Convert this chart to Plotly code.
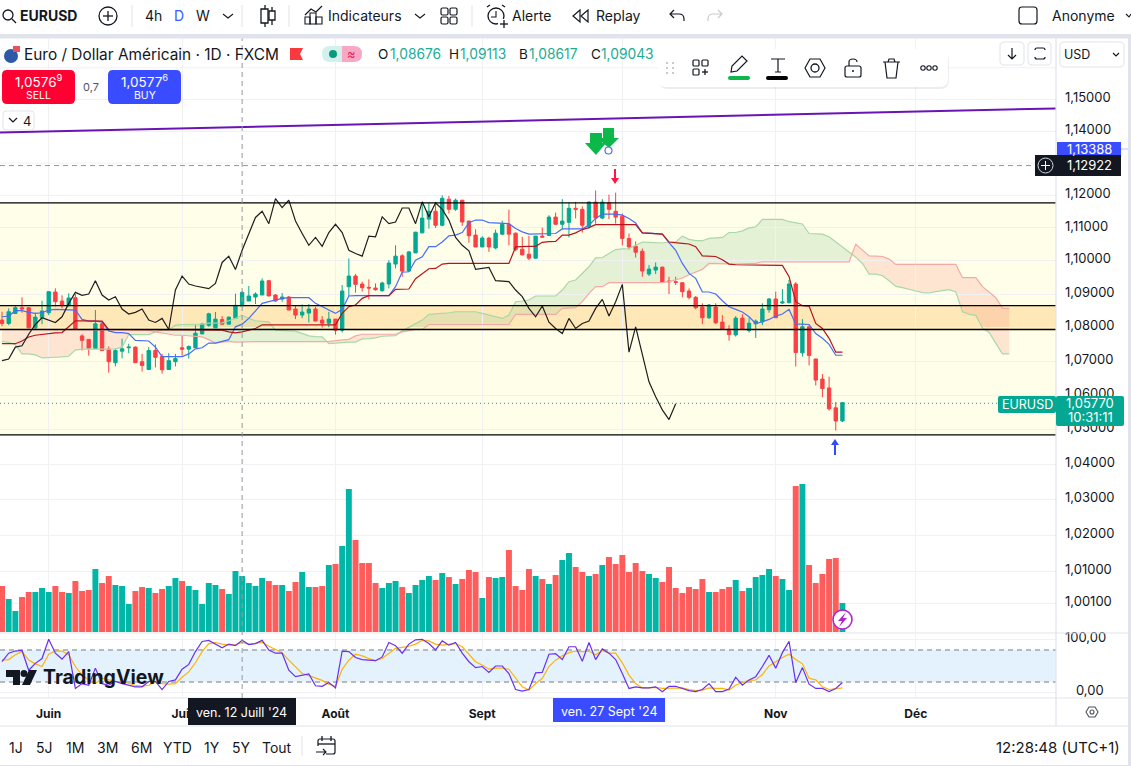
import re
import plotly.graph_objects as go

W, H = 1131, 766
FIRST_BAR = -7
month_ticks = [0, 20, 43, 65, 86, 109, 130]
shown_ticks = [0, 20, 43, 65, 109, 130]
shown_labels = ["Juin", "Juil", "Août", "Sept", "Nov", "Déc"]
price_ticks = [1.15, 1.14, 1.12, 1.11, 1.10, 1.09, 1.08, 1.07, 1.06, 1.05, 1.04, 1.03, 1.02, 1.01, 1.001]
price_labels = ["1,15000", "1,14000", "1,12000", "1,11000", "1,10000", "1,09000", "1,08000", "1,07000", "1,06000",
                "1,05000", "1,04000", "1,03000", "1,02000", "1,01000", "1,00100"]
unlabelled_grid = [1.16, 1.13]

opens = [1.0817,1.0807,1.0837,1.0854,1.0854,1.0794,1.0824,1.0839,1.0901,1.0874,
 1.0861,1.0884,1.0770,1.0760,1.0733,1.0806,1.0731,1.0691,1.0725,1.0735,
 1.0737,1.0694,1.0671,1.0727,1.0709,1.0671,1.0694,1.0735,1.0731,1.0735,
 1.0776,1.0802,1.0794,1.0819,1.0805,1.0822,1.0859,1.0874,1.0886,1.0892,
 1.0935,1.0892,1.0880,1.0886,1.0850,1.0832,1.0838,1.0850,1.0817,1.0808,
 1.0820,1.0787,1.0917,1.0949,1.0925,1.0915,1.0913,1.0905,1.0925,1.0985,
 1.1010,1.0964,1.1019,1.1080,1.1122,1.1146,1.1103,1.1183,1.1152,1.1180,
 1.1116,1.1073,1.1037,1.1064,1.1034,1.1076,1.1106,1.1079,1.1030,1.1015,
 1.1003,1.1070,1.1072,1.1128,1.1106,1.1112,1.1155,1.1152,1.1100,1.1174,
 1.1125,1.1172,1.1146,1.1131,1.1063,1.1039,1.1024,1.0955,1.0967,1.0976,
 1.0934,1.0932,1.0929,1.0904,1.0885,1.0856,1.0824,1.0856,1.0811,1.0790,
 1.0773,1.0823,1.0786,1.0806,1.0812,1.0848,1.0880,1.0868,1.0869,1.0925,
 1.0720,1.0797,1.0702,1.0643,1.0617,1.0559,1.0521]
highs = [1.0842,1.0852,1.0859,1.0885,1.0855,1.0839,1.0875,1.0902,1.0912,1.0891,
 1.0897,1.0895,1.0775,1.0760,1.0847,1.0812,1.0739,1.0732,1.0762,1.0747,
 1.0739,1.0717,1.0737,1.0745,1.0717,1.0719,1.0717,1.0771,1.0742,1.0802,
 1.0809,1.0839,1.0841,1.0829,1.0827,1.0896,1.0904,1.0919,1.0900,1.0942,
 1.0937,1.0895,1.0898,1.0889,1.0862,1.0864,1.0865,1.0857,1.0829,1.0842,
 1.0820,1.0922,1.1002,1.0955,1.0932,1.0939,1.0927,1.0932,1.0997,1.1042,
 1.1015,1.1025,1.1083,1.1175,1.1172,1.1168,1.1195,1.1193,1.1185,1.1180,
 1.1117,1.1091,1.1070,1.1068,1.1090,1.1117,1.1151,1.1081,1.1068,1.1071,
 1.1070,1.1096,1.1134,1.1142,1.1183,1.1173,1.1175,1.1161,1.1177,1.1210,
 1.1183,1.1197,1.1203,1.1139,1.1078,1.1054,1.1032,1.0982,1.0990,1.0976,
 1.0947,1.0947,1.0929,1.0912,1.0889,1.0867,1.0865,1.0867,1.0832,1.0802,
 1.0829,1.0835,1.0824,1.0819,1.0867,1.0883,1.0902,1.0910,1.0937,1.0931,
 1.0820,1.0802,1.0702,1.0658,1.0650,1.0576,1.0576]
lows = [1.0799,1.0802,1.0835,1.0839,1.0793,1.0787,1.0805,1.0832,1.0857,1.0852,
 1.0857,1.0789,1.0727,1.0712,1.0731,1.0725,1.0662,1.0680,1.0704,1.0719,
 1.0691,1.0665,1.0670,1.0677,1.0659,1.0670,1.0680,1.0712,1.0703,1.0735,
 1.0775,1.0797,1.0794,1.0803,1.0805,1.0820,1.0858,1.0874,1.0865,1.0892,
 1.0889,1.0872,1.0872,1.0847,1.0820,1.0823,1.0810,1.0814,1.0795,1.0796,
 1.0774,1.0780,1.0889,1.0899,1.0902,1.0879,1.0905,1.0902,1.0912,1.0972,
 1.0947,1.0962,1.1019,1.1078,1.1093,1.1095,1.1100,1.1139,1.1147,1.1101,
 1.1050,1.1037,1.1037,1.1022,1.1030,1.1073,1.1042,1.1024,1.1011,1.0997,
 1.1001,1.1066,1.1070,1.1106,1.1091,1.1066,1.1124,1.1081,1.1093,1.1108,
 1.1122,1.1122,1.1108,1.1042,1.1029,1.1005,1.0947,1.0949,1.0955,1.0931,
 1.0895,1.0922,1.0885,1.0879,1.0849,1.0805,1.0820,1.0805,1.0788,1.0756,
 1.0768,1.0788,1.0780,1.0764,1.0802,1.0839,1.0824,1.0865,1.0867,1.0680,
 1.0709,1.0683,1.0624,1.0590,1.0551,1.0493,1.0518]
closes = [1.0807,1.0842,1.0854,1.0850,1.0794,1.0826,1.0844,1.0902,1.0872,1.0860,
 1.0883,1.0789,1.0757,1.0733,1.0806,1.0727,1.0694,1.0727,1.0732,1.0737,
 1.0691,1.0683,1.0727,1.0707,1.0670,1.0697,1.0703,1.0731,1.0739,1.0778,
 1.0805,1.0836,1.0820,1.0805,1.0826,1.0861,1.0900,1.0889,1.0895,1.0934,
 1.0889,1.0874,1.0886,1.0847,1.0832,1.0841,1.0850,1.0814,1.0808,1.0820,
 1.0787,1.0904,1.0949,1.0924,1.0914,1.0913,1.0908,1.0928,1.0988,1.1009,
 1.0964,1.1022,1.1082,1.1125,1.1146,1.1103,1.1186,1.1152,1.1180,1.1113,
 1.1071,1.1037,1.1064,1.1037,1.1079,1.1106,1.1076,1.1029,1.1013,1.1003,
 1.1070,1.1067,1.1128,1.1106,1.1116,1.1155,1.1152,1.1103,1.1174,1.1125,
 1.1174,1.1152,1.1128,1.1063,1.1037,1.1021,1.0964,1.0970,1.0976,1.0931,
 1.0932,1.0930,1.0902,1.0885,1.0854,1.0824,1.0862,1.0809,1.0789,1.0774,
 1.0823,1.0790,1.0808,1.0814,1.0850,1.0880,1.0824,1.0871,1.0925,1.0721,
 1.0797,1.0712,1.0640,1.0615,1.0556,1.0521,1.0574]
volumes = [46,33,21,35,40,40,44,40,46,40,39,51,41,42,63,49,56,47,46,28,
 41,45,44,39,43,46,54,51,46,42,28,49,47,43,38,61,56,49,46,54,
 51,47,47,41,50,60,45,45,46,67,68,86,143,92,69,69,49,44,49,51,
 45,39,47,52,56,52,59,55,48,53,62,60,34,55,54,55,82,46,42,63,
 56,53,48,57,72,79,65,60,56,58,67,75,68,77,60,69,61,58,54,50,
 65,44,39,45,43,53,40,40,43,45,52,41,44,55,57,63,56,53,42,146,
 148,67,49,58,73,74,29]
conversion = [1.0827,1.0829,1.0845,1.0845,1.0840,1.0837,1.0839,1.0847,1.0849,1.0849,
 1.0849,1.0847,1.0819,1.0814,1.0814,1.0812,1.0785,1.0780,1.0780,1.0777,
 1.0757,1.0756,1.0755,1.0737,1.0709,1.0709,1.0709,1.0709,1.0717,1.0732,
 1.0735,1.0749,1.0749,1.0754,1.0759,1.0797,1.0805,1.0822,1.0845,1.0867,
 1.0872,1.0877,1.0882,1.0884,1.0884,1.0884,1.0884,1.0867,1.0857,1.0845,
 1.0837,1.0849,1.0889,1.0890,1.0890,1.0890,1.0890,1.0890,1.0890,1.0917,
 1.0961,1.0962,1.0997,1.1007,1.1038,1.1038,1.1052,1.1071,1.1073,1.1081,
 1.1111,1.1119,1.1119,1.1111,1.1110,1.1110,1.1108,1.1093,1.1083,1.1076,
 1.1076,1.1076,1.1076,1.1078,1.1092,1.1092,1.1092,1.1092,1.1103,1.1124,
 1.1137,1.1137,1.1137,1.1134,1.1124,1.1110,1.1080,1.1079,1.1078,1.1076,
 1.1050,1.1027,1.0987,1.0957,1.0942,1.0901,1.0901,1.0895,1.0875,1.0857,
 1.0849,1.0841,1.0827,1.0807,1.0812,1.0819,1.0829,1.0835,1.0849,1.0805,
 1.0805,1.0804,1.0777,1.0763,1.0745,1.0713,1.0713]
base_line = [1.0747,1.0747,1.0747,1.0755,1.0767,1.0772,1.0775,1.0777,1.0779,1.0780,
 1.0797,1.0815,1.0815,1.0815,1.0814,1.0814,1.0789,1.0789,1.0789,1.0789,
 1.0789,1.0789,1.0789,1.0789,1.0789,1.0789,1.0789,1.0789,1.0789,1.0789,
 1.0789,1.0789,1.0789,1.0787,1.0782,1.0779,1.0782,1.0787,1.0792,1.0803,
 1.0803,1.0803,1.0803,1.0803,1.0803,1.0803,1.0803,1.0803,1.0803,1.0803,
 1.0803,1.0837,1.0857,1.0862,1.0882,1.0890,1.0890,1.0890,1.0890,1.0909,
 1.0910,1.0910,1.0941,1.0957,1.0971,1.0972,1.0985,1.0987,1.0987,1.0987,
 1.0987,1.0987,1.0987,1.0987,1.0987,1.0987,1.0987,1.1037,1.1039,1.1039,
 1.1039,1.1051,1.1053,1.1054,1.1073,1.1073,1.1080,1.1090,1.1096,1.1105,
 1.1105,1.1105,1.1105,1.1105,1.1105,1.1105,1.1080,1.1079,1.1078,1.1076,
 1.1052,1.1051,1.1048,1.1046,1.1038,1.1010,1.1009,1.1008,1.0998,1.0985,
 1.0983,1.0983,1.0983,1.0983,1.0983,1.0983,1.0983,1.0981,1.0947,1.0872,
 1.0860,1.0859,1.0807,1.0792,1.0763,1.0722,1.0722]
lagging = [1.0697,1.0702,1.0737,1.0741,1.0775,1.0804,1.0824,1.0817,1.0810,1.0827,
 1.0867,1.0900,1.0891,1.0895,1.0935,1.0892,1.0877,1.0887,1.0850,1.0835,
 1.0840,1.0850,1.0817,1.0810,1.0822,1.0789,1.0907,1.0949,1.0925,1.0919,
 1.0915,1.0911,1.0927,1.0990,1.1009,1.0969,1.1027,1.1080,1.1127,1.1146,
 1.1108,1.1185,1.1157,1.1180,1.1116,1.1078,1.1042,1.1066,1.1039,1.1081,
 1.1106,1.1081,1.1027,1.1017,1.1009,1.1070,1.1068,1.1129,1.1108,1.1113,
 1.1156,1.1156,1.1108,1.1175,1.1129,1.1172,1.1152,1.1119,1.1066,1.1042,
 1.1025,1.0969,1.0971,1.0975,1.0935,1.0933,1.0932,1.0907,1.0887,1.0852,
 1.0827,1.0859,1.0811,1.0792,1.0777,1.0822,1.0792,1.0807,1.0814,1.0852,
 1.0879,1.0829,1.0872,1.0924,1.0722,1.0797,1.0714,1.0635,1.0591,1.0553,
 1.0525,1.0571]
span_a = [1.0754,1.0751,1.0744,1.0717,1.0717,1.0714,1.0705,1.0707,1.0707,1.0708,
 1.0710,1.0729,1.0731,1.0732,1.0731,1.0730,1.0731,1.0732,1.0737,1.0774,
 1.0774,1.0774,1.0774,1.0782,1.0787,1.0788,1.0802,1.0804,1.0804,1.0803,
 1.0805,1.0808,1.0809,1.0809,1.0815,1.0822,1.0832,1.0822,1.0815,1.0813,
 1.0812,1.0787,1.0785,1.0785,1.0784,1.0777,1.0770,1.0768,1.0767,1.0747,
 1.0749,1.0751,1.0752,1.0752,1.0761,1.0762,1.0764,1.0769,1.0770,1.0771,
 1.0785,1.0795,1.0807,1.0817,1.0834,1.0835,1.0837,1.0839,1.0842,1.0842,
 1.0842,1.0842,1.0837,1.0832,1.0827,1.0822,1.0832,1.0872,1.0874,1.0877,
 1.0889,1.0889,1.0889,1.0889,1.0907,1.0932,1.0937,1.0957,1.0977,1.1004,
 1.1005,1.1017,1.1029,1.1031,1.1032,1.1042,1.1052,1.1051,1.1050,1.1049,
 1.1052,1.1052,1.1070,1.1060,1.1056,1.1056,1.1063,1.1064,1.1066,1.1081,
 1.1081,1.1086,1.1095,1.1098,1.1121,1.1121,1.1121,1.1121,1.1114,1.1111,
 1.1107,1.1078,1.1077,1.1076,1.1068,1.1053,1.1038,1.1023,1.1006,1.0987,
 1.0955,1.0955,1.0950,1.0935,1.0918,1.0914,1.0910,1.0904,1.0899,1.0898,
 1.0902,1.0906,1.0908,1.0901,1.0842,1.0834,1.0831,1.0793,1.0780,1.0748,
 1.0717,1.0717]
span_b = [1.0789,1.0789,1.0789,1.0789,1.0789,1.0789,1.0789,1.0789,1.0789,1.0789,
 1.0789,1.0789,1.0789,1.0789,1.0789,1.0789,1.0789,1.0789,1.0789,1.0789,
 1.0789,1.0789,1.0787,1.0782,1.0779,1.0777,1.0772,1.0772,1.0771,1.0770,
 1.0767,1.0759,1.0749,1.0752,1.0754,1.0752,1.0753,1.0753,1.0753,1.0753,
 1.0753,1.0753,1.0753,1.0753,1.0753,1.0753,1.0753,1.0753,1.0753,1.0753,
 1.0756,1.0757,1.0760,1.0770,1.0775,1.0775,1.0775,1.0775,1.0775,1.0775,
 1.0782,1.0785,1.0789,1.0789,1.0804,1.0804,1.0804,1.0804,1.0804,1.0804,
 1.0804,1.0804,1.0804,1.0804,1.0804,1.0804,1.0804,1.0834,1.0834,1.0834,
 1.0834,1.0834,1.0834,1.0834,1.0852,1.0853,1.0854,1.0872,1.0897,1.0917,
 1.0917,1.0929,1.0929,1.0929,1.0929,1.0929,1.0929,1.0929,1.0929,1.0929,
 1.0932,1.0937,1.0943,1.0953,1.0962,1.0969,1.0987,1.0986,1.0985,1.0985,
 1.0985,1.0986,1.0986,1.0987,1.0992,1.0992,1.0992,1.0992,1.0992,1.0992,
 1.0992,1.0992,1.0992,1.0992,1.0992,1.0992,1.0992,1.0992,1.1045,1.1028,
 1.1010,1.1009,1.1008,1.1000,1.0984,1.0984,1.0984,1.0984,1.0984,1.0984,
 1.0984,1.0984,1.0984,1.0984,1.0944,1.0944,1.0944,1.0917,1.0901,1.0884,
 1.0852,1.0852]
stoch_k = [58,74,78,79,42,55,64,100,74,63,77,8,17,14,46,17,14,21,17,14,
 11,11,21,21,6,21,24,44,53,77,96,98,91,84,91,88,98,90,92,98,
 80,74,74,42,30,32,35,13,12,19,9,78,77,66,62,61,60,67,94,88,
 74,91,99,100,92,80,97,89,94,74,58,47,49,38,50,50,36,6,3,6,
 37,38,72,73,62,86,86,59,94,62,82,74,62,36,8,11,9,9,11,2,
 12,12,8,4,2,6,17,2,2,7,29,14,24,30,49,70,46,75,96,19,
 47,16,8,8,2,8,19]
stoch_d = [61,62,71,77,61,54,49,72,78,78,71,49,33,24,17,27,24,21,21,17,
 14,12,14,21,17,16,17,29,39,56,77,92,94,91,89,90,94,91,92,94,
 87,81,75,61,49,36,32,27,23,16,12,44,61,72,69,64,60,64,74,83,
 85,87,91,98,97,91,89,91,92,86,71,58,52,44,46,46,44,27,11,5,
 17,27,49,61,69,75,78,77,78,71,79,74,74,56,33,17,9,9,10,8,
 8,9,9,6,4,5,9,8,8,5,14,19,23,24,34,50,58,66,72,62,
 54,27,24,11,6,7,9]

zone_outer = [1.0481, 1.1172]
zone_inner = [1.0789, 1.0860]
trend_prices = [1.1390, 1.1466]
crosshair_price = 1.12922
last_price = 1.05770
stoch_band = [20, 80]

# The readings above were taken against a slightly low reference point on the price scale.
READ_CORRECTION = 1.00046


def corrected(values):
    return [round(v * READ_CORRECTION, 5) for v in values]


opens, highs, lows, closes = corrected(opens), corrected(highs), corrected(lows), corrected(closes)
conversion, base_line, lagging = corrected(conversion), corrected(base_line), corrected(lagging)
span_a, span_b = corrected(span_a), corrected(span_b)
zone_outer, zone_inner, trend_prices = corrected(zone_outer), corrected(zone_inner), corrected(trend_prices)

assert len(opens) == len(highs) == len(lows) == len(closes) == len(volumes) == len(conversion) == len(base_line) == len(stoch_k) == len(stoch_d) == 127
assert len(lagging) == 102
assert len(span_a) == len(span_b) == 152

UP, DOWN = "#04A892", "#FC3F44"
VUP, VDOWN = "#02B6A7", "#FF5C5C"
INK = "#131722"
EDGE = "#E0E3EB"
GRID = "#F1F1F3"
FONT = "Inter"
CROSS_DASH = "5px,4px"

bars = list(range(FIRST_BAR, FIRST_BAR + len(opens)))
XMIN, XMAX = -7.301, 151.02


def px(p): return p / W
def py(p): return 1 - p / H


shapes, notes = [], []


def path_of(s):
    tokens = re.findall(r"[MLQCZ]|-?\d+\.?\d*", s)
    out, axis = [], 0
    for t in tokens:
        if t in "MLQCZ":
            out.append(t)
            axis = 0
        else:
            v = float(t)
            out.append(f"{px(v) if axis == 0 else py(v):.6f}")
            axis = 1 - axis
    return " ".join(out)


def pth(s, fill=None, line=None, lw=1.3):
    shapes.append(dict(type="path", xref="paper", yref="paper", path=path_of(s), fillcolor=fill or "rgba(0,0,0,0)",
                       line=dict(color=line or "rgba(0,0,0,0)", width=lw if line else 0), layer="above"))


def rect(x0, y0, x1, y1, fill=None, line=None, lw=1, r=0):
    if r:
        s = (f"M {x0+r} {y0} L {x1-r} {y0} Q {x1} {y0} {x1} {y0+r} L {x1} {y1-r} Q {x1} {y1} {x1-r} {y1} "
             f"L {x0+r} {y1} Q {x0} {y1} {x0} {y1-r} L {x0} {y0+r} Q {x0} {y0} {x0+r} {y0} Z")
    else:
        s = f"M {x0} {y0} L {x1} {y0} L {x1} {y1} L {x0} {y1} Z"
    pth(s, fill, line, lw)


def seg(x0, y0, x1, y1, color=INK, lw=1.3, dash=None):
    shapes.append(dict(type="line", xref="paper", yref="paper", x0=px(x0), x1=px(x1), y0=py(y0), y1=py(y1),
                       line=dict(color=color, width=lw, dash=dash or "solid"), layer="above"))


def circ(cx, cy, r, fill=None, line=INK, lw=1.3):
    shapes.append(dict(type="circle", xref="paper", yref="paper", x0=px(cx-r), x1=px(cx+r), y0=py(cy-r), y1=py(cy+r),
                       fillcolor=fill or "rgba(0,0,0,0)", line=dict(color=line or "rgba(0,0,0,0)", width=lw), layer="above"))


def txt(x, y, s, size=14, color=INK, anchor="left", font=FONT):
    notes.append(dict(x=px(x), y=py(y), xref="paper", yref="paper", text=s, showarrow=False, xanchor=anchor, yanchor="middle",
                      font=dict(size=size, color=color, family=font), borderpad=0, borderwidth=0))


fig = go.Figure()


def band(prices, fill):
    shapes.append(dict(type="rect", xref="x", yref="y", x0=XMIN, x1=XMAX, y0=prices[0], y1=prices[1], fillcolor=fill,
                       line=dict(width=0), layer="below"))


def hline(price, color, width=1.2, dash="solid", xaxis="x", yaxis="y"):
    fig.add_trace(go.Scatter(x=[XMIN, XMAX], y=[price, price], mode="lines", line=dict(color=color, width=width, dash=dash),
                             xaxis=xaxis, yaxis=yaxis, hoverinfo="skip"))


band(zone_outer, "#FFFEE9")
band(zone_inner, "#FFE8B8")

# Ichimoku cloud, one polygon per run where span A stays above or below span B
cloud_x = list(range(FIRST_BAR, FIRST_BAR + len(span_a)))
run_x, run_a, run_b = [], [], []


def flush(sign):
    if len(run_x) > 1:
        xs = run_x + run_x[::-1]
        ys = run_a + run_b[::-1]
        d = "M " + " L ".join(f"{a:.3f} {b:.5f}" for a, b in zip(xs, ys)) + " Z"
        shapes.append(dict(type="path", xref="x", yref="y", path=d, line=dict(width=0), layer="below",
                           fillcolor="rgba(150,205,150,0.25)" if sign > 0 else "rgba(245,130,120,0.2)"))


sign = 1 if span_a[0] >= span_b[0] else -1
for k in range(len(cloud_x)):
    s = 1 if span_a[k] >= span_b[k] else -1
    if s != sign:
        d0, d1 = span_a[k-1] - span_b[k-1], span_a[k] - span_b[k]
        t = d0 / (d0 - d1)
        cx = cloud_x[k-1] + t
        cy = span_a[k-1] + t * (span_a[k] - span_a[k-1])
        run_x.append(cx); run_a.append(cy); run_b.append(cy)
        flush(sign)
        run_x, run_a, run_b = [cx], [cy], [cy]
        sign = s
    run_x.append(cloud_x[k]); run_a.append(span_a[k]); run_b.append(span_b[k])
flush(sign)

for g in unlabelled_grid:
    hline(g, GRID, 1)
fig.add_trace(go.Scatter(x=cloud_x, y=span_a, mode="lines", line=dict(color="#A8D8A8", width=1.2), hoverinfo="skip"))
fig.add_trace(go.Scatter(x=cloud_x, y=span_b, mode="lines", line=dict(color="#F5A9A5", width=1.2), hoverinfo="skip"))

hline(last_price, UP, 1, "1px,3px")
hline(crosshair_price, "#9598A1", 1, CROSS_DASH)

fig.add_trace(go.Candlestick(x=bars, open=opens, high=highs, low=lows, close=closes, whiskerwidth=0,
                             increasing=dict(line=dict(color=UP, width=1), fillcolor=UP),
                             decreasing=dict(line=dict(color=DOWN, width=1), fillcolor=DOWN), hoverinfo="skip"))
fig.add_trace(go.Scatter(x=bars, y=conversion, mode="lines", line=dict(color="#4A6CF7", width=1.2), hoverinfo="skip"))
fig.add_trace(go.Scatter(x=bars, y=base_line, mode="lines", line=dict(color="#B8141C", width=1.2), hoverinfo="skip"))
fig.add_trace(go.Scatter(x=bars[:len(lagging)], y=lagging, mode="lines", line=dict(color="#1E1E1E", width=1.2), hoverinfo="skip"))

for p in zone_outer + zone_inner:
    hline(p, "#000000", 1.3)
fig.add_trace(go.Scatter(x=[XMIN, XMAX], y=trend_prices, mode="lines", line=dict(color="#6A14B4", width=2), hoverinfo="skip"))

fig.add_trace(go.Bar(x=bars, y=volumes, marker=dict(color=[VUP if c >= o else VDOWN for o, c in zip(opens, closes)], line=dict(width=0)),
                     yaxis="y2", hoverinfo="skip"))

fig.add_trace(go.Scatter(x=[XMIN, XMAX, XMAX, XMIN], y=[stoch_band[0], stoch_band[0], stoch_band[1], stoch_band[1]], mode="lines",
                         fill="toself", fillcolor="#E3F2FD", line=dict(width=0), xaxis="x2", yaxis="y3", hoverinfo="skip"))
for lv in stoch_band:
    hline(lv, "#787B86", 1, CROSS_DASH, "x2", "y3")
fig.add_trace(go.Scatter(x=bars, y=stoch_d, mode="lines", line=dict(color="#FFB300", width=1.2), xaxis="x2", yaxis="y3", hoverinfo="skip"))
fig.add_trace(go.Scatter(x=bars, y=stoch_k, mode="lines", line=dict(color="#6A30F0", width=1.2), xaxis="x2", yaxis="y3", hoverinfo="skip"))

# gridline under the blue date label, which hides its "Oct" tick label
shapes.append(dict(type="line", xref="x2", yref="y3 domain", x0=86, x1=86, y0=0, y1=1, line=dict(color=GRID, width=1), layer="below"))

# ---------- window chrome ----------
rect(0, 0, 1131, 34, "#FFFFFF")
rect(0, 34, 1131, 38.5, EDGE)
rect(1128, 34, 1131, 766, EDGE)
rect(0, 726, 1128, 765, "#FFFFFF")
seg(0, 726, 1128, 726, EDGE, 1.2)
seg(0, 698, 1128, 698, EDGE, 1.2)
seg(0, 633, 1128, 633, EDGE, 1.2)
seg(1056, 38, 1056, 726, EDGE, 1.2)
rect(0, 765, 1131, 766, EDGE)

# top bar
circ(8, 15, 5)
seg(12, 19, 16, 23)
txt(20, 16, "<b>EURUSD</b>", 14)
circ(108, 16, 9)
seg(103, 16, 113, 16); seg(108, 11, 108, 21)
for sx in (132, 242, 289, 472):
    seg(sx, 5, sx, 27, EDGE, 1)
txt(145, 16, "4h", 14)
txt(174, 16, "D", 14, "#3D5AFE")
txt(196, 16, "W", 14)
pth("M 223 14 L 228 18 L 233 14", None, INK, 1.1)
seg(265, 5, 265, 27); rect(261, 9, 268, 23, "#FFFFFF", INK, 1.3)
seg(272, 7, 272, 25); rect(269, 11, 275, 20, "#FFFFFF", INK, 1.3)
pth("M 305 15 L 311 9 L 316 12 L 322 6", None, INK, 1.2)
rect(305, 17, 310, 24, None, INK, 1.1); rect(310, 13, 316, 24, None, INK, 1.1); rect(316, 17, 322, 24, None, INK, 1.1)
txt(328, 16, "Indicateurs", 14)
pth("M 415 14 L 420 18 L 425 14", None, INK, 1.1)
for gx, gy in ((441, 8), (450, 8), (441, 17), (450, 17)):
    rect(gx, gy, gx+7, gy+7, None, INK, 1.2, 1.5)
circ(496, 16, 8)
pth("M 496 11 L 496 17 L 491 17", None, INK, 1.1)
seg(487, 7, 490, 5); seg(505, 7, 502, 5)
rect(498, 19, 510, 28, "#FFFFFF"); seg(504, 20, 504, 28); seg(500, 24, 508, 24)
txt(512, 16, "Alerte", 14)
pth("M 580 10 L 573 16 L 580 22 Z", None, INK, 1.2)
pth("M 588 10 L 581 16 L 588 22 Z", None, INK, 1.2)
txt(596, 16, "Replay", 14)
pth("M 674 10 L 670 14 L 674 18 M 670 14 L 679 14 Q 684 14 684 19 L 684 21", None, INK, 1.2)
pth("M 718 10 L 722 14 L 718 18 M 722 14 L 713 14 Q 708 14 708 19 L 708 21", None, "#C9CBD1", 1.2)
rect(1019, 7, 1037, 24, None, INK, 1.2, 3)
txt(1052, 16, "Anonyme", 14)
pth("M 1126 14 L 1129 17 L 1131 14", None, INK, 1.1)

# header legend
circ(11, 56, 7, "#2C5AA8", None, 0)
rect(13, 46, 20, 52, "#E9505A")
txt(24, 54, "Euro / Dollar Américain · 1D · FXCM", 15.4)
pth("M 290 48 L 303 48 L 300 54 L 303 60 L 290 60 Z", "#F9393B")
pth("M 342 46 L 330 46 Q 322 46 322 54 Q 322 62 330 62 L 342 62 Z", "#D3F1EA")
pth("M 342 46 L 354 46 Q 362 46 362 54 Q 362 62 354 62 L 342 62 Z", "#F9A8C4")
circ(333, 54, 4, "#089981", None, 0)
txt(351, 54, "≈", 13, "#E91E63", "center")
for lx, vx, key, val in ((378, 390, "O", "1,08676"), (449, 460, "H", "1,09113"), (519, 529, "B", "1,08617"), (591, 601, "C", "1,09043")):
    txt(lx, 54, key, 13.5)
    txt(vx, 54, val, 13.8, "#22AB94")
rect(2, 70, 75, 104, "#FF0033", None, 1, 5)
rect(108, 70, 181, 104, "#3A4CFF", None, 1, 5)
txt(38.5, 81, "1,0576<sup>9</sup>", 13.5, "#FFFFFF", "center")
txt(38.5, 95, "SELL", 10.5, "#FFFFFF", "center")
txt(144.5, 81, "1,0577<sup>6</sup>", 13.5, "#FFFFFF", "center")
txt(144.5, 95, "BUY", 10.5, "#FFFFFF", "center")
txt(91, 87, "0,7", 11, "#50535E", "center")
rect(3, 111, 34, 130, "#FFFFFF", EDGE, 1, 3)
pth("M 9 118 L 13 122 L 17 118", None, INK, 1.2)
txt(23, 121, "4", 13)

# floating drawing toolbar
rect(659, 51, 949, 89, "rgba(0,0,0,0.07)", None, 1, 9)
rect(658, 49, 948, 87, "#FFFFFF", None, 1, 8)
for dx in (667, 673):
    for dy in (63, 68, 73):
        rect(dx-1, dy-1, dx+1, dy+1, "#C8CAD0")
for gx, gy in ((693, 60), (702, 60), (693, 69)):
    rect(gx, gy, gx+6, gy+6, None, INK, 1.2, 1)
seg(702, 72, 708, 72); seg(705, 69, 705, 75)
pth("M 731 72 L 732 66 L 742 56 L 747 61 L 737 71 Z", None, INK, 1.2)
rect(728, 76, 750, 80, "#0CB84A", None, 1, 2)
pth("M 771 59 L 785 59 M 778 59 L 778 72 M 775 72 L 781 72", None, INK, 1.2)
rect(766, 76, 788, 80, "#000000", None, 1, 2)
pth("M 805 68 L 810 59 L 820 59 L 825 68 L 820 77 L 810 77 Z", None, INK, 1.2)
circ(815, 68, 4)
rect(845, 66, 861, 77, None, INK, 1.2, 2)
pth("M 849 66 L 849 62 Q 849 59 853 59 Q 857 59 857 62", None, INK, 1.2)
circ(853, 71, 1, INK, None, 0)
pth("M 883 62 L 900 62 M 888 62 L 889 59 L 894 59 L 895 62 M 885 62 L 887 78 L 896 78 L 898 62", None, INK, 1.2)
for dx in (923, 929, 935):
    circ(dx, 68, 2.2, None, INK, 1.1)

# top-right buttons
rect(1000, 42, 1024, 65, "#FFFFFF", EDGE, 1, 4)
pth("M 1012 48 L 1012 59 M 1008 55 L 1012 59 L 1016 55", None, INK, 1.2)
rect(1028, 42, 1051, 65, "#FFFFFF", EDGE, 1, 4)
pth("M 1035 50 Q 1035 48 1037 48 L 1043 48 Q 1045 48 1045 50 M 1035 57 Q 1035 59 1037 59 L 1043 59 Q 1045 59 1045 57", None, INK, 1.2)
rect(1060, 42, 1124, 67, "#FFFFFF", EDGE, 1, 4)
txt(1064, 54, "USD", 12.5)
pth("M 1113 53 L 1116 56 L 1119 53", None, INK, 1.2)

# marks on the chart
pth("M 590 133 L 602 133 L 602 143 L 606 143 L 596 155 L 585 143 L 590 143 Z", "#0CB84A")
pth("M 603 128 L 614 128 L 614 138 L 619 138 L 609 148 L 597 138 L 603 138 Z", "#0CB84A")
circ(608.5, 150.5, 3.5, "#FFFFFF", "#4F6BEE", 1.2)
seg(615, 169, 615, 181, "#FF1744", 2)
pth("M 611 178 L 619 178 L 615 184 Z", "#FF1744")
seg(835, 443, 835, 455, "#2F4BFF", 2)
pth("M 831 445 L 839 445 L 835 439 Z", "#2F4BFF")

# crosshair vertical
shapes.append(dict(type="line", xref="x", yref="paper", x0=29, x1=29, y0=py(698), y1=py(38.5), line=dict(color="#9598A1", width=1, dash=CROSS_DASH), layer="above"))

# right-hand badges
seg(1121, 149, 1128, 149, "#B8C4F8", 1)
rect(1057, 142, 1121, 156, "#3A4CFF")
txt(1089, 149, "1,13388", 13, "#FFFFFF", "center")
rect(1035, 155, 1121, 176, "#131722")
circ(1045.5, 165.5, 7.5, None, "#D1D4DC", 1)
seg(1041, 165.5, 1050, 165.5, "#FFFFFF", 1); seg(1045.5, 161, 1045.5, 170, "#FFFFFF", 1)
txt(1089, 165.5, "1,12922", 13, "#FFFFFF", "center")
rect(998, 396, 1056, 413, "#04A892", None, 1, 2)
txt(1027, 404, "EURUSD", 12.5, "#FFFFFF", "center")
rect(1056, 396, 1124, 426, "#04A892", None, 1, 2)
txt(1090, 403, "1,05770", 13, "#FFFFFF", "center")
txt(1090, 417, "10:31:11", 13, "#FFFFFF", "center")

# lightning button
circ(842.5, 619.5, 9.5, "#FFFFFF", "#B026C8", 1.6)
pth("M 846 612 L 838 621 L 842 621 L 839 627 L 847 618 L 843 618 Z", "#B026C8")

# TradingView watermark
pth("M 6 670 L 20 670 L 20 685 L 13 685 L 13 677 L 6 677 Z", "#131722")
circ(24, 673.5, 3.5, "#131722", None, 0)
pth("M 29 670 L 37 670 L 30 685 L 22 685 Z", "#131722")
txt(43, 677, "<b>TradingView</b>", 19.5)

# dark date labels
rect(188, 698, 296, 725, "#131722")
txt(242, 712, "ven. 12 Juill '24", 12.5, "#FFFFFF", "center")
rect(553, 698, 665, 722, "#3A4CFF")
txt(609, 711, "ven. 27 Sept '24", 12.5, "#FFFFFF", "center")
pth("M 1086 712 L 1089 707 L 1095 707 L 1098 712 L 1095 717 L 1089 717 Z", None, "#50535E", 1.1)
circ(1092, 712, 2, None, "#50535E", 1.1)

# range buttons
for rx, lab in ((16, "1J"), (44, "5J"), (75, "1M"), (108, "3M"), (141, "6M"), (177, "YTD"), (212, "1Y"), (242, "5Y"), (277, "Tout")):
    txt(rx, 747, lab, 14, INK, "center")
seg(302, 736, 302, 756, EDGE, 1)
rect(318, 739, 335, 754, None, INK, 1.2, 2)
rect(314, 746, 326, 757, "#FFFFFF")
seg(318, 744, 335, 744); seg(322, 736, 322, 741); seg(331, 736, 331, 741)
pth("M 316 752 L 326 752 M 323 749 L 326 752 L 323 755", None, INK, 1.1)
txt(1120, 747, "12:28:48 (UTC+1)", 15, INK, "right")

xcommon = dict(showgrid=True, gridcolor=GRID, gridwidth=1, zeroline=False, range=[XMIN, XMAX],
               domain=[0, 1056 / W], showline=False, ticks="", automargin=False, tickmode="array")
LOG_TOP, LOG_BOTTOM = 0.067965, -0.002969

fig.update_layout(
    template="none",
    width=W, height=H, margin=dict(l=0, r=0, t=0, b=0, pad=0, autoexpand=False), paper_bgcolor="#FFFFFF", plot_bgcolor="#FFFFFF", showlegend=False,
    font=dict(family=FONT, color=INK), hovermode=False, dragmode=False, barmode="overlay", bargap=0.11, boxgap=0.28,
    xaxis=dict(**xcommon, tickvals=month_ticks, anchor="y", showticklabels=False, rangeslider=dict(visible=False)),
    xaxis2=dict(**xcommon, tickvals=shown_ticks, anchor="y3", matches="x", ticktext=[f"<b>{m}</b>" for m in shown_labels],
                tickfont=dict(size=12, color=INK, family=FONT), ticklabelstandoff=7),
    yaxis=dict(type="log", range=[LOG_BOTTOM, LOG_TOP], domain=[1 - 632 / H, 1 - 38.5 / H], side="right", tickmode="array", anchor="x",
               tickvals=price_ticks, ticktext=price_labels, showgrid=True, gridcolor=GRID, gridwidth=1, zeroline=False, automargin=False,
               tickfont=dict(size=13, color=INK, family=FONT), ticklabelstandoff=8, ticklabelshift=-2, ticks="", showline=False),
    yaxis2=dict(range=[0, 593.5], domain=[1 - 632 / H, 1 - 38.5 / H], overlaying="y", side="left", showgrid=False, zeroline=False,
                showticklabels=False, ticks="", automargin=False, anchor="x"),
    yaxis3=dict(range=[-9.9, 109.9], domain=[1 - 698 / H, 1 - 634 / H], side="right", anchor="x2", tickmode="array", tickvals=[0, 100],
                ticktext=["\u00a0\u00a0\u00a00,00", "100,00"], showgrid=True, gridcolor=GRID, zeroline=False, automargin=False,
                tickfont=dict(size=13, color=INK, family=FONT), ticklabelstandoff=8, ticklabelshift=-2, ticks="", showline=False),
    shapes=shapes, annotations=notes,
)
fig.write_html("out.html", config={"displayModeBar": False},
               post_script="document.body.style.margin='0';document.documentElement.style.overflow='hidden';")
